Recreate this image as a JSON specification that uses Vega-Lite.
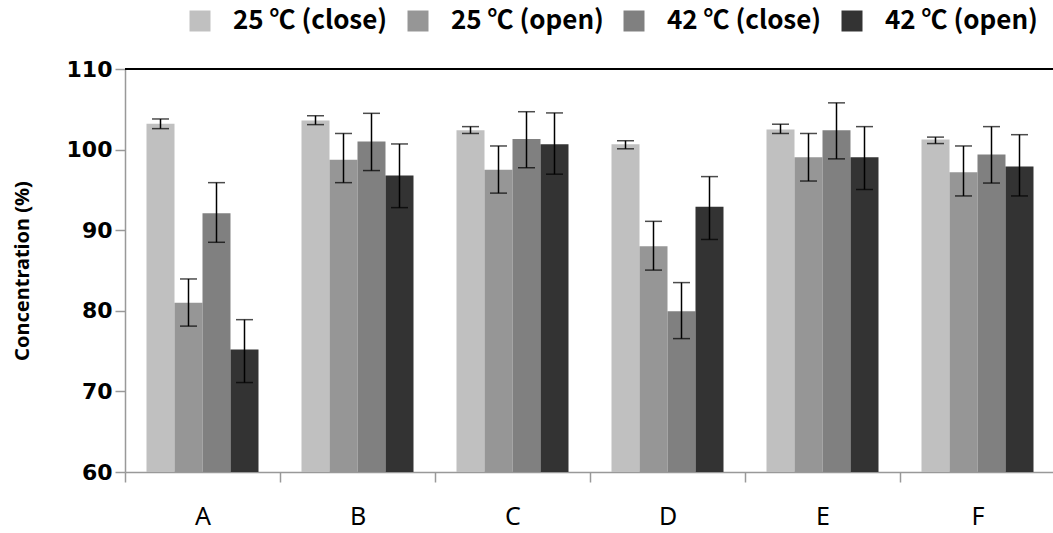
{
  "$schema": "https://vega.github.io/schema/vega-lite/v6.json",
  "width": 930,
  "height": 403,
  "autosize": {"type": "none"},
  "padding": {"left": 125, "top": 69, "right": 0, "bottom": 61},
  "config": {"view": {"stroke": null}},
  "data": {
    "values": [
      {"group": "A", "cond": "25 ℃ (close)", "mean": 103.2, "lo": 102.6, "hi": 103.8},
      {"group": "A", "cond": "25 ℃ (open)", "mean": 81.0, "lo": 78.1, "hi": 83.95},
      {"group": "A", "cond": "42 ℃ (close)", "mean": 92.1, "lo": 88.5, "hi": 95.9},
      {"group": "A", "cond": "42 ℃ (open)", "mean": 75.2, "lo": 71.1, "hi": 78.9},
      {"group": "B", "cond": "25 ℃ (close)", "mean": 103.6, "lo": 103.1, "hi": 104.2},
      {"group": "B", "cond": "25 ℃ (open)", "mean": 98.75, "lo": 95.9, "hi": 102.0},
      {"group": "B", "cond": "42 ℃ (close)", "mean": 101.0, "lo": 97.4, "hi": 104.5},
      {"group": "B", "cond": "42 ℃ (open)", "mean": 96.8, "lo": 92.8, "hi": 100.7},
      {"group": "C", "cond": "25 ℃ (close)", "mean": 102.4, "lo": 102.0, "hi": 102.85},
      {"group": "C", "cond": "25 ℃ (open)", "mean": 97.5, "lo": 94.6, "hi": 100.45},
      {"group": "C", "cond": "42 ℃ (close)", "mean": 101.3, "lo": 97.75, "hi": 104.7},
      {"group": "C", "cond": "42 ℃ (open)", "mean": 100.65, "lo": 96.95, "hi": 104.55},
      {"group": "D", "cond": "25 ℃ (close)", "mean": 100.65, "lo": 100.1, "hi": 101.1},
      {"group": "D", "cond": "25 ℃ (open)", "mean": 88.0, "lo": 85.05, "hi": 91.1},
      {"group": "D", "cond": "42 ℃ (close)", "mean": 79.95, "lo": 76.55, "hi": 83.5},
      {"group": "D", "cond": "42 ℃ (open)", "mean": 92.9, "lo": 88.85, "hi": 96.65},
      {"group": "E", "cond": "25 ℃ (close)", "mean": 102.5, "lo": 102.0, "hi": 103.15},
      {"group": "E", "cond": "25 ℃ (open)", "mean": 99.05, "lo": 96.1, "hi": 102.0},
      {"group": "E", "cond": "42 ℃ (close)", "mean": 102.4, "lo": 98.85, "hi": 105.8},
      {"group": "E", "cond": "42 ℃ (open)", "mean": 99.05, "lo": 95.05, "hi": 102.85},
      {"group": "F", "cond": "25 ℃ (close)", "mean": 101.25, "lo": 100.75, "hi": 101.55},
      {"group": "F", "cond": "25 ℃ (open)", "mean": 97.2, "lo": 94.25, "hi": 100.45},
      {"group": "F", "cond": "42 ℃ (close)", "mean": 99.4, "lo": 95.85, "hi": 102.85},
      {"group": "F", "cond": "42 ℃ (open)", "mean": 97.9, "lo": 94.25, "hi": 101.85}
    ]
  },
  "layer": [
    {
      "mark": {"type": "bar"},
      "encoding": {
        "x": {
          "field": "group", "type": "nominal",
          "scale": {"paddingInner": 0, "paddingOuter": 0},
          "axis": {
            "title": null, "labelAngle": 0, "tickBand": "extent", "tickSize": 10,
            "tickColor": "#999999", "domainColor": "#999999", "domainWidth": 1.5, "tickWidth": 1.5,
            "labelFont": "Noto Sans", "labelFontSize": 25, "labelColor": "#000000", "labelPadding": 22
          }
        },
        "xOffset": {"field": "cond", "type": "nominal", "sort": ["25 ℃ (close)", "25 ℃ (open)", "42 ℃ (close)", "42 ℃ (open)"], "scale": {"paddingInner": 0, "paddingOuter": 0.768}},
        "y": {
          "field": "mean", "type": "quantitative",
          "scale": {"domain": [60, 110], "zero": false, "nice": false},
          "axis": {
            "values": [60, 70, 80, 90, 100, 110], "grid": false,
            "title": "Concentration (%)", "titleFont": "Noto Sans", "titleFontSize": 20, "titleFontWeight": "bold", "titleColor": "#000000", "titlePadding": 34,
            "labelFont": "DejaVu Sans", "labelFontWeight": "bold", "labelFontSize": 22, "labelColor": "#000000", "labelPadding": 3,
            "tickSize": 10, "tickColor": "#999999", "domainColor": "#999999", "domainWidth": 1.5, "tickWidth": 1.5
          }
        },
        "y2": {"datum": 60},
        "color": {
          "field": "cond", "type": "nominal",
          "scale": {"domain": ["25 ℃ (close)", "25 ℃ (open)", "42 ℃ (close)", "42 ℃ (open)"], "range": ["#c0c0c0", "#969696", "#808080", "#333333"]},
          "legend": {
            "orient": "none", "legendX": 62, "legendY": -61, "direction": "horizontal", "title": null,
            "symbolType": "square", "symbolSize": 441, "symbolStrokeWidth": 0,
            "labelFont": "Noto Sans CJK KR", "labelFontSize": 26, "labelFontWeight": "bold", "labelColor": "#000000",
            "labelOffset": 20, "columnPadding": 17
          }
        }
      }
    },
    {
      "mark": {"type": "rule", "color": "#000000", "strokeWidth": 1.5},
      "encoding": {
        "x": {"field": "group", "type": "nominal"},
        "xOffset": {"field": "cond", "type": "nominal", "sort": ["25 ℃ (close)", "25 ℃ (open)", "42 ℃ (close)", "42 ℃ (open)"]},
        "y": {"field": "lo", "type": "quantitative"},
        "y2": {"field": "hi"}
      }
    },
    {
      "mark": {"type": "tick", "color": "#000000", "thickness": 1.5, "size": 17},
      "encoding": {
        "x": {"field": "group", "type": "nominal"},
        "xOffset": {"field": "cond", "type": "nominal", "sort": ["25 ℃ (close)", "25 ℃ (open)", "42 ℃ (close)", "42 ℃ (open)"]},
        "y": {"field": "lo", "type": "quantitative"}
      }
    },
    {
      "mark": {"type": "tick", "color": "#000000", "thickness": 1.5, "size": 17},
      "encoding": {
        "x": {"field": "group", "type": "nominal"},
        "xOffset": {"field": "cond", "type": "nominal", "sort": ["25 ℃ (close)", "25 ℃ (open)", "42 ℃ (close)", "42 ℃ (open)"]},
        "y": {"field": "hi", "type": "quantitative"}
      }
    },
    {
      "mark": {"type": "rule", "color": "#000000", "strokeWidth": 1.5},
      "encoding": {"y": {"datum": 110}}
    }
  ]
}
